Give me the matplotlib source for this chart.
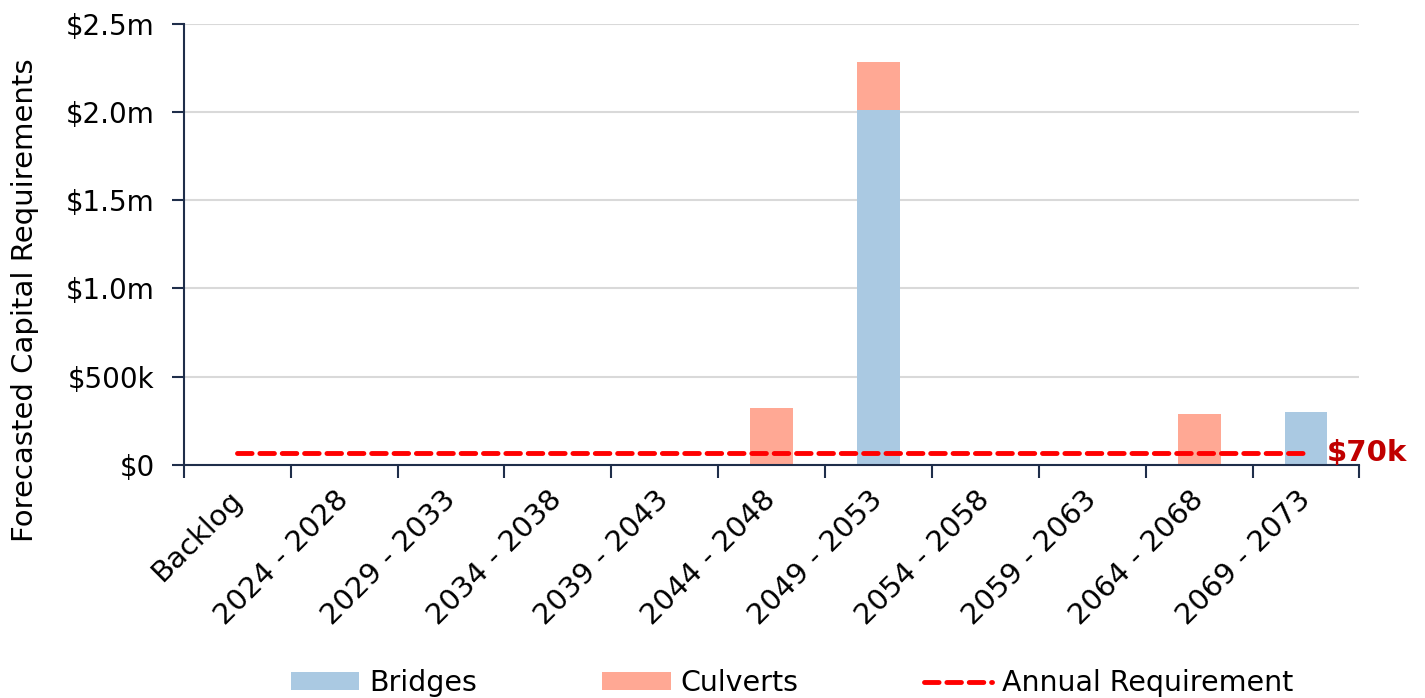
import numpy as np
import matplotlib.pyplot as plt
from matplotlib.ticker import FuncFormatter

plt.rcParams['font.family'] = 'DejaVu Sans'

# forecast periods and requirements ($m)
periods = ['Backlog', '2024 - 2028', '2029 - 2033', '2034 - 2038', '2039 - 2043',
           '2044 - 2048', '2049 - 2053', '2054 - 2058', '2059 - 2063',
           '2064 - 2068', '2069 - 2073']
bridges = [0, 0, 0, 0, 0, 0, 2.01, 0, 0, 0, 0.30]
culverts = [0, 0, 0, 0, 0, 0.325, 0.275, 0, 0, 0.29, 0]
annual_req = 0.07

blue = '#AAC9E2'
salmon = '#FFA894'
navy = '#1F2E4A'
fs = 20

x = np.arange(len(periods))
fig, ax = plt.subplots(figsize=(14.25, 6.98), dpi=100)
fig.subplots_adjust(left=0.129, right=0.954, top=0.966, bottom=0.334)

ax.bar(x, bridges, width=0.4, color=blue, label='Bridges', zorder=2)
ax.bar(x, culverts, width=0.4, bottom=bridges, color=salmon, label='Culverts', zorder=2)
ax.plot([x[0], x[-1]], [annual_req, annual_req], color='#FF0000', lw=3.5,
        dashes=(3, 1.6), dash_capstyle='round', label='Annual Requirement', zorder=3)
ax.text(x[-1] + 0.19, annual_req, '$70k', color='#C00000', fontsize=21,
        fontweight='bold', va='center', ha='left')

ax.set_xlim(-0.5, len(periods) - 0.5)
ax.set_ylim(0, 2.5)
ax.set_yticks(np.arange(0, 2.51, 0.5))

def money(v, pos):
    if v == 0:
        return '$0'
    if v < 1:
        return '$%dk' % round(v * 1000)
    return '$%.1fm' % v

ax.yaxis.set_major_formatter(FuncFormatter(money))
ax.set_xticks(x)
ax.set_xticklabels(periods, rotation=45, ha='right', va='center', rotation_mode='anchor')
ax.set_xticks(np.arange(-0.5, len(periods)), minor=True)
ax.tick_params(axis='x', which='major', length=0, pad=22, labelsize=21)
ax.tick_params(axis='x', which='minor', length=9, width=1.5, color=navy)
ax.tick_params(axis='y', length=9, width=1.5, color=navy, labelsize=fs, pad=12)

ax.grid(axis='y', color='#D9D9D9', lw=1.5, zorder=0)
for s in ['top', 'right']:
    ax.spines[s].set_visible(False)
for s in ['left', 'bottom']:
    ax.spines[s].set_color(navy)
    ax.spines[s].set_linewidth(1.5)

ax.set_ylabel('Forecasted Capital Requirements', fontsize=21)
ax.yaxis.set_label_coords(-0.123, 0.374)

handles, labels = ax.get_legend_handles_labels()
order = [1, 2, 0]
fig.legend([handles[i] for i in order], [labels[i] for i in order],
           loc='center', bbox_to_anchor=(0.556, 0.021), ncol=3, frameon=False,
           fontsize=20.5, handlelength=2.4, handleheight=0.6, columnspacing=4.4,
           handletextpad=0.35)

plt.savefig('out.png')
